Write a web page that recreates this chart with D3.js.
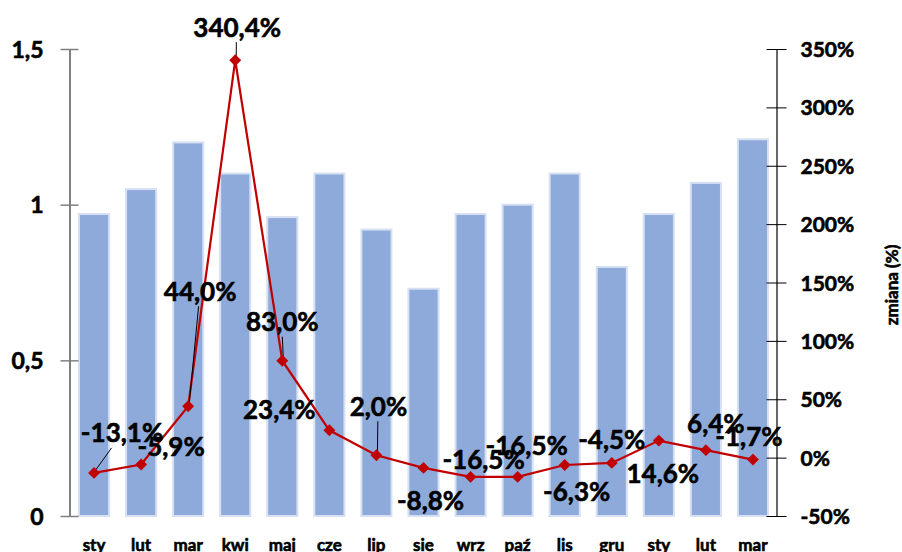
<!DOCTYPE html>
<html><head><meta charset="utf-8">
<script src="https://cdn.jsdelivr.net/npm/d3@7"></script>
<style>
html,body{margin:0;padding:0;background:#fff;}
text{font-family:Lato,"Open Sans",sans-serif;font-weight:bold;fill:#000;stroke:#000;stroke-width:0.6px;}
</style></head><body>
<svg id="chart" width="902" height="552"></svg>
<script>
const categories = ["sty","lut","mar","kwi","maj","cze","lip","sie","wrz","paź","lis","gru","sty","lut","mar"];
const barValues = [0.97,1.05,1.2,1.1,0.96,1.1,0.92,0.73,0.97,1.0,1.1,0.8,0.97,1.07,1.21];
const changeValues = [-13.1,-5.9,44.0,340.4,83.0,23.4,2.0,-8.8,-16.5,-16.5,-6.3,-4.5,14.6,6.4,-1.7];
const leftTicks = [0,0.5,1,1.5];
const rightTicks = [-50,0,50,100,150,200,250,300,350];
// label layout (pixel offsets of label centre from marker) and leader-line flags
const labelDx = [28,30,12,2,0,-50,2,7,13,9,12,0,4,10,-4];
const labelDy = [-40,-18,-115,-33,-39,-21,-49,33,-17,-31,27,-23,33,-27,-23];
const leaders = [true,false,true,true,true,false,true,false,false,false,false,false,false,false,false];

const FONT = "Lato,'Open Sans',sans-serif";
const svg = d3.select("#chart");
const mLeft = 69.5, mRight = 776.5, mTop = 49, mBottom = 516;
const idx = categories.map((d,i)=>i);
const x = d3.scaleBand().domain(idx).range([mLeft+1, mRight]).paddingInner(0.36).paddingOuter(0.18);
const yL = d3.scaleLinear().domain([0,1.5]).range([mBottom, mTop]);
const yR = d3.scaleLinear().domain([-50,350]).range([mBottom, mTop]);
const fmtL = d => d3.format(".1~f")(d).replace(".", ",");
const fmtP = d => d3.format(".1f")(d).replace("−","-").replace(".", ",") + "%";

// bars
svg.append("g").selectAll("rect").data(barValues).join("rect")
  .attr("x",(d,i)=>x(i)).attr("width",x.bandwidth())
  .attr("y",d=>yL(d)).attr("height",d=>yL(0)-yL(d))
  .attr("fill","#8eaadb").attr("stroke","#d6e0f2").attr("stroke-width",2);

// left axis
const gL = svg.append("g").attr("transform",`translate(${mLeft},0)`);
gL.call(d3.axisLeft(yL).tickValues(leftTicks).tickFormat(fmtL).tickSizeInner(9).tickSizeOuter(0));
gL.select(".domain").attr("stroke","#808080").attr("stroke-width",2);
gL.selectAll(".tick line").attr("x1",-9).attr("x2",9).attr("stroke","#808080").attr("stroke-width",1.5);
gL.selectAll(".tick text").attr("x",-26).attr("font-size",23).attr("dy","0.36em");

// right axis
const gR = svg.append("g").attr("transform",`translate(${mRight},0)`);
gR.call(d3.axisRight(yR).tickValues(rightTicks).tickFormat(d=>String(d).replace("−","-")+"%").tickSizeInner(10).tickSizeOuter(0));
gR.select(".domain").attr("stroke","#000").attr("stroke-width",1.2);
gR.selectAll(".tick line").attr("x1",-10).attr("x2",10).attr("stroke","#000");
gR.selectAll(".tick text").attr("x",24).attr("font-size",21).attr("dy","0.36em");
svg.selectAll(".domain").attr("fill","none");
svg.selectAll(".tick text").attr("font-family",FONT).attr("font-weight","bold").attr("fill","#000");

svg.append("text").attr("transform","translate(892,285) rotate(-90)")
  .attr("text-anchor","middle").attr("dy","0.35em").attr("font-size",17).text("zmiana (%)");

// category labels
svg.append("g").selectAll("text").data(categories).join("text")
  .attr("x",(d,i)=>x(i)+x.bandwidth()/2).attr("y",551)
  .attr("text-anchor","middle").attr("font-size",17).text(d=>d);

// line
const cx = i => x(i)+x.bandwidth()/2;
svg.append("path").datum(changeValues)
  .attr("d", d3.line().x((d,i)=>cx(i)).y(d=>yR(d)))
  .attr("fill","none").attr("stroke","#c00000").attr("stroke-width",2.2);

// leader lines
svg.append("g").selectAll("line").data(changeValues.map((d,i)=>({d,i})).filter(o=>leaders[o.i])).join("line")
  .attr("x1",o=>cx(o.i)+1).attr("y1",o=>yR(o.d)-2)
  .attr("x2",o=>{const dx=labelDx[o.i], dy=labelDy[o.i]; const t=(Math.abs(dy)-15)/Math.abs(dy); return cx(o.i)+dx*t;})
  .attr("y2",o=>{const dy=labelDy[o.i]; return yR(o.d)+dy+15;})
  .attr("stroke","#000").attr("stroke-width",1);

// markers
svg.append("g").selectAll("path").data(changeValues).join("path")
  .attr("transform",(d,i)=>`translate(${cx(i)},${yR(d)})`)
  .attr("d", d3.symbol(d3.symbolDiamond2, 90)())
  .attr("fill","#c00000");

// data labels
svg.append("g").selectAll("text").data(changeValues).join("text")
  .attr("x",(d,i)=>cx(i)+labelDx[i]).attr("y",(d,i)=>yR(d)+labelDy[i])
  .attr("text-anchor","middle").attr("dy","0.36em").attr("font-size",26).text(d=>fmtP(d));
</script>
</body></html>
